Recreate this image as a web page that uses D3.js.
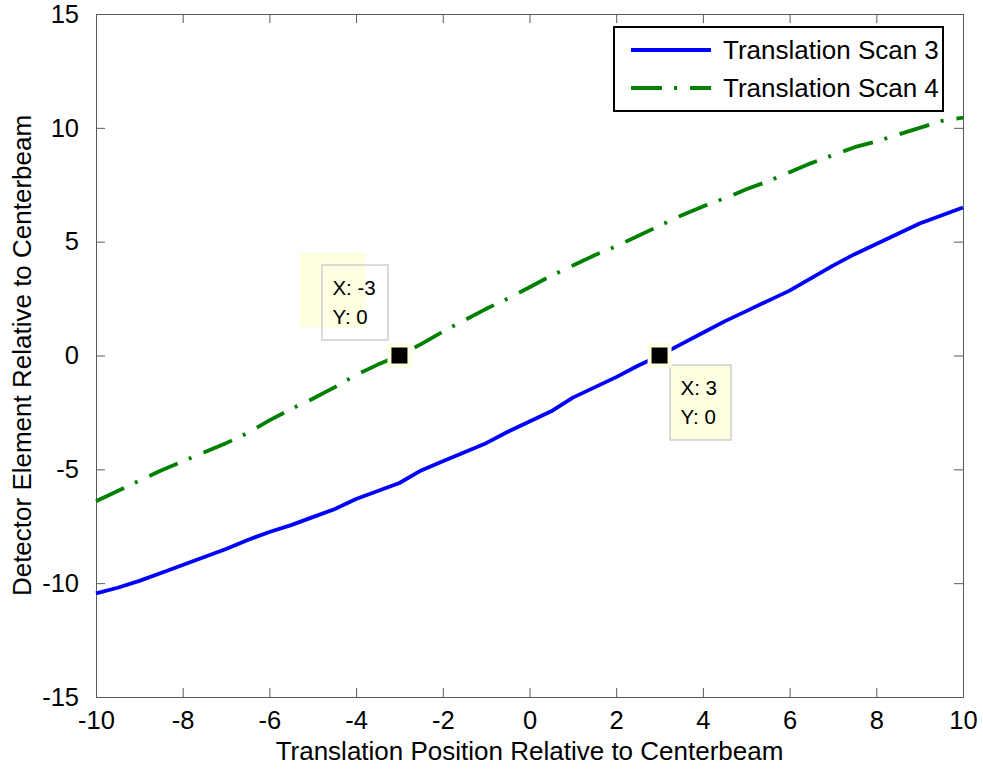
<!DOCTYPE html>
<html>
<head>
<meta charset="utf-8">
<script src="https://cdn.jsdelivr.net/npm/d3@7/dist/d3.min.js"></script>
<style>
  html, body { margin: 0; padding: 0; background: #fff; }
  svg { display: block; font-family: "Liberation Sans", Arial, sans-serif; }
</style>
</head>
<body>
<svg id="chart" width="983" height="769"></svg>
<script>
// Sample positions (translation position, relative to centerbeam)
const positions = [
  -10, -9.5, -9, -8.5, -8, -7.5, -7, -6.5, -6, -5.5, -5, -4.5, -4, -3.5, -3, -2.5, -2, -1.5, -1, -0.5,
  0, 0.5, 1, 1.5, 2, 2.5, 3, 3.5, 4, 4.5, 5, 5.5, 6, 6.5, 7, 7.5, 8, 8.5, 9, 9.5, 10
];

// Detector element offset for each scan
const scan3 = [
  -10.45, -10.2, -9.9, -9.55, -9.2, -8.85, -8.5, -8.1, -7.75, -7.45, -7.1, -6.75, -6.3, -5.95, -5.6, -5.05, -4.65, -4.25, -3.85, -3.35,
  -2.9, -2.45, -1.85, -1.4, -0.95, -0.45, 0, 0.5, 1.0, 1.5, 1.95, 2.4, 2.85, 3.4, 3.95, 4.45, 4.9, 5.35, 5.8, 6.15, 6.5
];
const scan4 = [
  -6.4, -5.95, -5.5, -5.05, -4.65, -4.25, -3.85, -3.4, -2.85, -2.35, -1.9, -1.4, -0.85, -0.4, 0, 0.5, 1.05, 1.55, 2.05, 2.5,
  3.0, 3.5, 3.95, 4.4, 4.8, 5.25, 5.7, 6.15, 6.55, 6.9, 7.3, 7.65, 8.05, 8.45, 8.8, 9.15, 9.4, 9.7, 10.0, 10.3, 10.45
];

const seriesNames = ["Translation Scan 3", "Translation Scan 4"];
const xTicks = [-10, -8, -6, -4, -2, 0, 2, 4, 6, 8, 10];
const yTicks = [-15, -10, -5, 0, 5, 10, 15];

// Data cursor points
const tipX = [-3, 3];
const tipY = [0, 0];

const xLabel = "Translation Position Relative to Centerbeam";
const yLabel = "Detector Element Relative to Centerbeam";

// ---- layout ----
const plot = { left: 96, right: 963, top: 14, bottom: 697 };
const axisColor = "#5a5a5a";
const tickLen = 9;
const tickFont = 25.5;
const labelFont = 26;
const plainNumber = d => String(d);   // ASCII hyphen for negatives

const svg = d3.select("#chart");

const x = d3.scaleLinear().domain([-10, 10]).range([plot.left, plot.right]);
const y = d3.scaleLinear().domain([-15, 15]).range([plot.bottom, plot.top]);

// ---- axes (box with inward ticks on all four sides) ----
function styleAxis(g, showLabels) {
  g.select(".domain").attr("stroke", axisColor).attr("stroke-width", 1);
  g.selectAll(".tick line").attr("stroke", axisColor).attr("stroke-width", 1);
  g.selectAll(".tick text")
    .attr("fill", "#000")
    .style("font-size", tickFont + "px")
    .style("font-family", "'Liberation Sans', Arial, sans-serif");
  if (!showLabels) g.selectAll(".tick text").remove();
}

svg.append("g")
  .attr("transform", `translate(0,${plot.bottom})`)
  .call(d3.axisBottom(x).tickValues(xTicks).tickSizeInner(-tickLen).tickSizeOuter(0).tickPadding(14).tickFormat(plainNumber))
  .call(g => styleAxis(g, true))
  .call(g => g.selectAll(".tick text").attr("dy", "0.71em"));

svg.append("g")
  .attr("transform", `translate(0,${plot.top})`)
  .call(d3.axisTop(x).tickValues(xTicks).tickSizeInner(-tickLen).tickSizeOuter(0))
  .call(g => styleAxis(g, false));

svg.append("g")
  .attr("transform", `translate(${plot.left},0)`)
  .call(d3.axisLeft(y).tickValues(yTicks).tickSizeInner(-tickLen).tickSizeOuter(0).tickPadding(17).tickFormat(plainNumber))
  .call(g => styleAxis(g, true));

svg.append("g")
  .attr("transform", `translate(${plot.right},0)`)
  .call(d3.axisRight(y).tickValues(yTicks).tickSizeInner(-tickLen).tickSizeOuter(0))
  .call(g => styleAxis(g, false));

// ---- series lines ----
const line = d3.line()
  .x((d, i) => x(positions[i]))
  .y(d => y(d));

const seriesStyle = [
  { color: "#0000ff", dash: null },
  { color: "#008000", dash: "31,12,3,13" }
];

[scan3, scan4].forEach((vals, k) => {
  svg.append("path")
    .datum(vals)
    .attr("d", line)
    .attr("fill", "none")
    .attr("stroke", seriesStyle[k].color)
    .attr("stroke-width", 3.8)
    .attr("stroke-linejoin", "round")
    .attr("stroke-dasharray", seriesStyle[k].dash);
});

// ---- axis titles ----
svg.append("text")
  .attr("x", (plot.left + plot.right) / 2)
  .attr("y", 760)
  .attr("text-anchor", "middle")
  .style("font-size", labelFont + "px")
  .text(xLabel);

svg.append("text")
  .attr("transform", `translate(31,${(plot.top + plot.bottom) / 2}) rotate(-90)`)
  .attr("text-anchor", "middle")
  .style("font-size", labelFont + "px")
  .text(yLabel);

// ---- legend ----
const legend = svg.append("g");
legend.append("rect")
  .attr("x", 614).attr("y", 27)
  .attr("width", 329).attr("height", 84)
  .attr("fill", "#fff")
  .attr("stroke", "#000")
  .attr("stroke-width", 2);

seriesNames.forEach((name, k) => {
  const cy = 50 + k * 38;
  legend.append("line")
    .attr("x1", 631).attr("x2", 711)
    .attr("y1", cy).attr("y2", cy)
    .attr("stroke", seriesStyle[k].color)
    .attr("stroke-width", 3.8)
    .attr("stroke-dasharray", seriesStyle[k].dash);
  legend.append("text")
    .attr("x", 723).attr("y", cy)
    .attr("dy", "0.36em")
    .style("font-size", labelFont + "px")
    .text(name);
});

// ---- data cursors ----
const tipFill = "#ffffe1";
const tipBorder = "#cfcfcf";
const tipFont = 20.5;

const tipLayouts = [
  // text box placed up-left of the point, with its shaded backing shifted further left
  { box: [-78, -91, 66, 75], shade: [-100, -103, 66, 75], boxFill: "none" },
  // text box placed down-right of the point
  { box: [10, 9, 61, 75], shade: null, boxFill: tipFill }
];

tipX.forEach((tx, i) => {
  const px = x(tx), py = y(tipY[i]);
  const L = tipLayouts[i];
  const g = svg.append("g");
  if (L.shade) {
    g.append("rect")
      .attr("x", px + L.shade[0]).attr("y", py + L.shade[1])
      .attr("width", L.shade[2]).attr("height", L.shade[3])
      .attr("fill", tipFill);
  }
  g.append("rect")
    .attr("x", px + L.box[0] + 0.5).attr("y", py + L.box[1] + 0.5)
    .attr("width", L.box[2]).attr("height", L.box[3])
    .attr("fill", L.boxFill)
    .attr("stroke", tipBorder)
    .attr("stroke-width", 1.5);
  g.append("text")
    .attr("x", px + L.box[0] + 11).attr("y", py + L.box[1] + 30)
    .style("font-size", tipFont + "px")
    .text("X: " + tx);
  g.append("text")
    .attr("x", px + L.box[0] + 11).attr("y", py + L.box[1] + 59)
    .style("font-size", tipFont + "px")
    .text("Y: " + tipY[i]);
  // marker
  g.append("rect")
    .attr("x", px - 10).attr("y", py - 10)
    .attr("width", 20).attr("height", 20)
    .attr("fill", "#000")
    .attr("stroke", tipFill)
    .attr("stroke-width", 4);
});
</script>
</body>
</html>
